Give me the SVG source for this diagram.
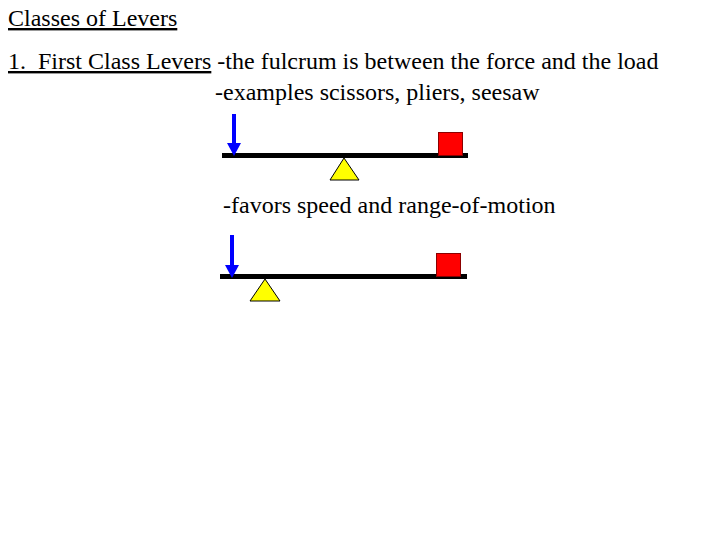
<svg xmlns="http://www.w3.org/2000/svg" width="720" height="540" viewBox="0 0 720 540">
  <style>
    .t { font-family: "Liberation Serif", "Times New Roman", serif; font-size: 24px; fill: #000; white-space: pre; }
    .u { text-decoration: underline; }
    .bar { fill: #000; }
    .load { fill: #ff0000; stroke: #8b0000; stroke-width: 1; }
    .fulcrum { fill: #ffff00; stroke: #000; stroke-width: 1; }
    .force { stroke: #0000ff; stroke-width: 4; fill: none; }
  </style>
  <defs>
    <marker id="ah" viewBox="0 0 13 14" refX="0" refY="7" markerWidth="13" markerHeight="14" markerUnits="userSpaceOnUse" orient="auto">
      <path d="M0,0 L13,7 L0,14 Z" fill="#0000ff"/>
    </marker>
  </defs>
  <rect width="720" height="540" fill="#fff"/>
  <g id="title">
    <text class="t u" x="8" y="26">Classes of Levers</text>
  </g>
  <g id="heading">
    <text class="t" x="8" y="69" xml:space="preserve"><tspan class="u">1.  First Class Levers</tspan> -the fulcrum is between the force and the load</text>
    <text class="t" x="215" y="100">-examples scissors, pliers, seesaw</text>
  </g>
  <g id="lever1">
    <rect class="bar" x="222" y="153" width="246" height="5"/>
    <rect class="load" x="438.5" y="132.5" width="24" height="23"/>
    <polygon class="fulcrum" points="344,158 330,180 359,180"/>
  </g>
  <g id="note">
    <text class="t" x="223" y="213">-favors speed and range-of-motion</text>
  </g>
  <g id="lever2">
    <rect class="bar" x="220" y="274" width="247" height="5"/>
    <rect class="load" x="436.5" y="253.5" width="24" height="23"/>
    <polygon class="fulcrum" points="265,279 250,301 280,301"/>
  </g>
  <g id="connectors">
    <line class="force" x1="234" y1="114" x2="234" y2="143" marker-end="url(#ah)"/>
    <line class="force" x1="232" y1="235" x2="232" y2="265" marker-end="url(#ah)"/>
  </g>
</svg>
